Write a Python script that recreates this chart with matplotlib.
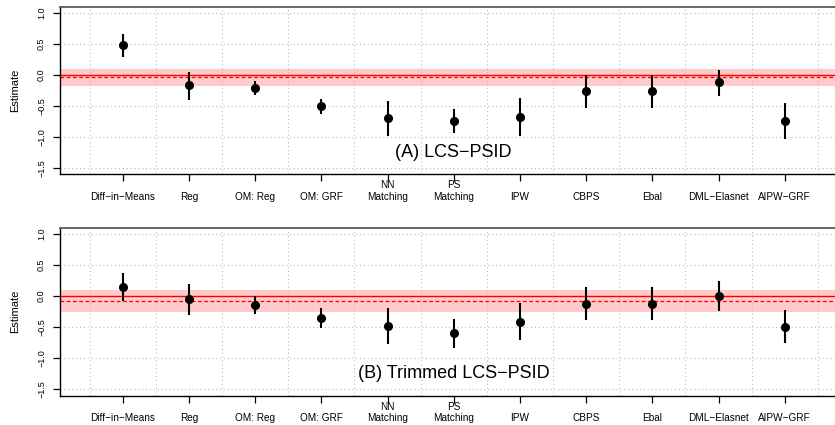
import matplotlib
matplotlib.use("Agg")
import matplotlib.pyplot as plt
import numpy as np

plt.rcParams['font.family'] = ['Liberation Sans', 'DejaVu Sans']

methods = ["Diff\u2212in\u2212Means", "Reg", "OM: Reg", "OM: GRF", "NN\nMatching",
           "PS\nMatching", "IPW", "CBPS", "Ebal", "DML\u2212Elasnet", "AIPW\u2212GRF"]

# panel A: LCS-PSID
est_a = [0.48, -0.17, -0.22, -0.51, -0.70, -0.74, -0.68, -0.26, -0.26, -0.12, -0.74]
lo_a = [0.29, -0.40, -0.33, -0.64, -0.99, -0.94, -0.98, -0.54, -0.54, -0.34, -1.04]
hi_a = [0.65, 0.05, -0.10, -0.39, -0.42, -0.55, -0.38, 0.00, 0.00, 0.08, -0.45]
bench_a = -0.04
band_a = (-0.18, 0.10)

# panel B: trimmed LCS-PSID
est_b = [0.145, -0.05, -0.15, -0.35, -0.48, -0.60, -0.41, -0.12, -0.12, 0.00, -0.49]
lo_b = [-0.08, -0.30, -0.29, -0.51, -0.77, -0.84, -0.70, -0.38, -0.38, -0.24, -0.76]
hi_b = [0.37, 0.20, 0.00, -0.20, -0.20, -0.37, -0.11, 0.14, 0.14, 0.24, -0.22]
bench_b = -0.08
band_b = (-0.25, 0.10)

W, H = 835, 425
fig = plt.figure(figsize=(W / 100, H / 100), dpi=100)


def panel(top_px, bottom_px, est, lo, hi, bench, band, title):
    ax = fig.add_axes([60 / W, 1 - bottom_px / H, 780 / W, (bottom_px - top_px) / H])
    x = np.arange(1, len(methods) + 1)
    ax.set_xlim(1 - 62.7 / 66.2, 1 + (840 - 122.7) / 66.2)
    ax.set_ylim(-1.6, 1.1)

    ax.axhspan(band[0], band[1], color='#ffcaca', lw=0, zorder=0)
    ax.axhline(0, color='red', lw=1.0, zorder=1)
    ax.axhline(bench, color='red', lw=0.9, ls=(0, (3, 2)), zorder=1)

    for v in np.arange(-1.5, 1.01, 0.5):
        ax.axhline(v, color='#bbbbbb', lw=0.8, ls=(0, (1, 2.5)), zorder=0.5)
    for v in np.arange(0.5, 12, 1.0):
        ax.axvline(v, color='#bbbbbb', lw=0.8, ls=(0, (1, 2.5)), zorder=0.5)

    ax.vlines(x, lo, hi, color='black', lw=1.5, zorder=3)
    ax.plot(x, est, 'o', color='black', ms=5.5, zorder=4)

    ax.text(6, -1.25, title, ha='center', va='center', fontsize=13)

    ax.set_yticks(np.arange(-1.5, 1.01, 0.5))
    ax.set_yticklabels(["\u22121.5", "\u22121.0", "\u22120.5", "0.0", "0.5", "1.0"],
                       rotation=90, va='center', fontsize=6.5)
    ax.set_xticks(x)
    ax.set_xticklabels([m if "\n" in m else "\n" + m for m in methods], fontsize=7.2,
                       linespacing=1.2)
    ax.tick_params(axis='both', direction='out', length=5, width=0.9)
    ax.tick_params(axis='y', pad=5)
    ax.tick_params(axis='x', pad=-0.5)
    ax.set_ylabel("Estimate", fontsize=8, labelpad=12)

    ax.spines['right'].set_visible(False)
    ax.spines['top'].set_color('#666666')
    ax.spines['top'].set_linewidth(1.4)
    for s in ('left', 'bottom'):
        ax.spines[s].set_color('black')
        ax.spines[s].set_linewidth(1.0)
    return ax


panel(6.5, 174, est_a, lo_a, hi_a, bench_a, band_a, "(A) LCS\u2212PSID")
panel(227.7, 395.5, est_b, lo_b, hi_b, bench_b, band_b, "(B) Trimmed LCS\u2212PSID")

fig.savefig("out.png", dpi=100)
